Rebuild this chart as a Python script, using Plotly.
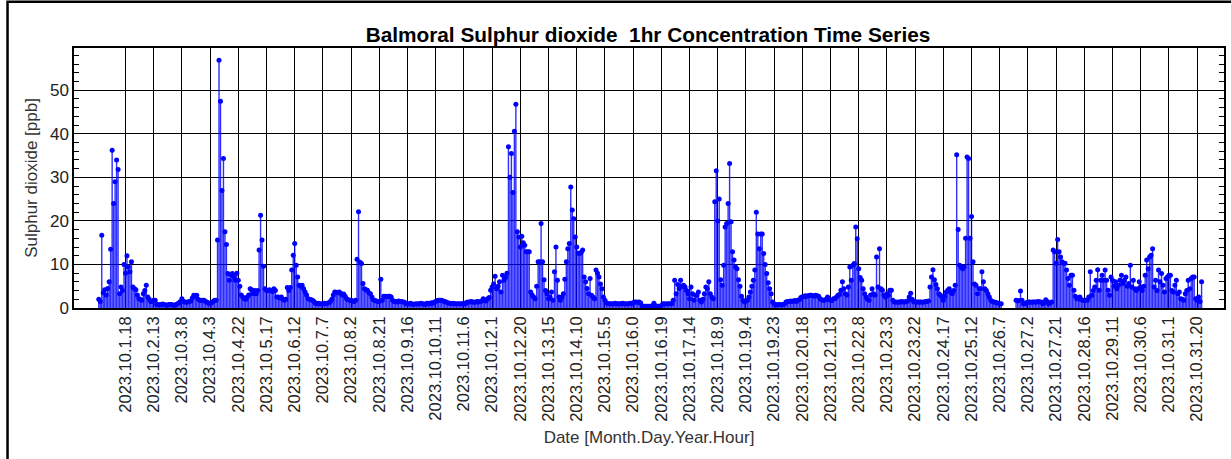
import plotly.graph_objects as go

# Hourly SO2 concentrations (ppb), October 2023, one list per day (hours 0..23)
d01 = [2.0, 1.5, 16.7, 3.5, 4.2, 3.0, 4.5, 6.0, 13.5, 36.2, 24.0, 29.0, 34.0, 31.8, 3.3, 4.8, 4.0, 10.0, 8.0, 12.0, 9.4, 8.3, 10.6, 4.8]
d02 = [4.4, 4.2, 3.0, 2.1, 2.0, 1.8, 3.3, 4.0, 5.2, 2.5, 2.0, 1.5, 1.5, 1.8, 1.8, 0.8, 0.8, 0.7, 0.8, 0.9, 0.8, 0.7, 0.6, 0.8]
d03 = [0.8, 0.8, 0.7, 0.6, 0.8, 1.0, 1.2, 1.5, 2.1, 1.5, 1.4, 1.3, 1.4, 1.5, 1.6, 2.3, 2.9, 2.7, 2.9, 2.0, 1.8, 1.7, 1.8, 1.8]
d04 = [1.5, 1.3, 1.1, 1.1, 1.2, 1.5, 1.8, 1.8, 15.6, 56.9, 47.5, 27.0, 34.3, 17.5, 14.6, 7.9, 6.4, 7.5, 7.9, 7.2, 6.4, 8.0, 6.4, 5.0]
d05 = [3.0, 2.5, 2.1, 2.0, 2.5, 3.0, 4.4, 4.2, 3.3, 4.0, 3.3, 4.0, 13.3, 21.3, 15.6, 9.6, 4.4, 4.0, 4.0, 4.2, 4.0, 3.8, 4.4, 4.0]
d06 = [2.5, 2.5, 2.3, 2.5, 2.0, 1.8, 2.0, 4.7, 4.0, 4.7, 8.7, 12.1, 14.8, 9.8, 7.1, 5.2, 5.0, 5.2, 4.4, 3.7, 3.0, 2.1, 2.0, 1.9]
d07 = [1.8, 1.5, 1.1, 1.0, 1.1, 1.0, 0.9, 1.0, 1.1, 1.0, 1.1, 1.2, 1.5, 2.0, 3.0, 3.7, 3.6, 3.5, 3.7, 3.4, 3.0, 3.2, 2.7, 2.1]
d08 = [1.9, 1.8, 1.8, 1.6, 1.5, 1.8, 11.2, 22.1, 10.5, 10.2, 5.6, 4.4, 4.2, 4.1, 3.5, 3.3, 2.5, 1.9, 1.7, 1.6, 1.5, 1.5, 6.6, 1.8]
d09 = [2.7, 2.7, 2.6, 2.7, 2.7, 2.5, 1.8, 1.5, 1.5, 1.4, 1.6, 1.5, 1.5, 1.4, 1.3, 1.0, 1.0, 0.9, 1.1, 1.0, 0.8, 0.9, 1.0, 0.9]
d10 = [1.0, 1.1, 1.0, 0.9, 0.8, 1.1, 1.1, 1.0, 1.2, 1.1, 1.3, 1.5, 1.7, 1.8, 1.8, 1.8, 1.6, 1.5, 1.4, 1.2, 1.1, 1.1, 1.0, 1.1]
d11 = [1.0, 0.9, 1.0, 1.0, 0.9, 1.0, 1.1, 1.0, 1.3, 1.4, 1.4, 1.5, 1.4, 1.3, 1.4, 1.5, 1.4, 1.5, 1.6, 2.1, 1.8, 1.6, 2.1, 2.4]
d12 = [4.1, 4.8, 5.5, 7.3, 4.4, 5.0, 6.0, 3.7, 7.5, 6.4, 7.0, 8.0, 37.0, 30.0, 35.5, 26.5, 40.6, 46.8, 17.5, 16.3, 14.0, 16.5, 15.0, 14.4]
d13 = [12.9, 12.9, 12.9, 3.7, 3.0, 2.5, 2.1, 5.0, 10.6, 10.6, 19.4, 10.6, 6.5, 4.0, 3.3, 2.1, 2.5, 3.7, 1.8, 8.3, 14.0, 6.4, 2.5, 1.8]
d14 = [2.5, 3.3, 6.6, 10.6, 13.6, 14.8, 27.8, 22.5, 20.5, 16.3, 14.0, 12.6, 12.5, 12.8, 13.3, 7.1, 6.0, 4.5, 3.3, 6.8, 2.9, 2.5, 2.1, 8.7]
d15 = [8.0, 7.1, 5.5, 4.4, 2.5, 1.8, 1.2, 1.0, 1.0, 1.0, 0.9, 1.0, 1.1, 1.0, 0.9, 1.0, 1.0, 1.1, 1.0, 0.9, 1.0, 1.0, 1.1, 1.0]
d16 = [1.2, 1.4, 1.4, 1.3, 1.4, 1.2, 0.5, 0.4, 0.4, 0.4, 0.4, 0.4, 0.4, 0.5, 1.1, 0.5, 0.4, 0.4, 0.4, 0.5, 1.0, 1.0, 0.9, 1.0]
d17 = [1.0, 1.0, 1.0, 1.8, 6.4, 3.3, 5.4, 4.5, 6.4, 5.0, 5.2, 4.8, 4.0, 3.3, 2.1, 4.8, 3.3, 1.8, 2.9, 2.9, 3.7, 1.8, 1.4, 2.0]
d18 = [3.3, 4.8, 4.4, 6.0, 3.3, 2.5, 2.1, 24.4, 31.5, 20.0, 25.0, 6.5, 5.2, 9.8, 18.6, 19.4, 24.0, 33.2, 19.8, 12.9, 11.0, 9.4, 9.0, 6.5]
d19 = [5.0, 2.7, 1.8, 1.4, 1.6, 1.8, 2.5, 3.7, 5.0, 6.4, 8.7, 22.0, 17.0, 13.6, 17.0, 17.0, 12.5, 10.0, 7.9, 5.8, 4.4, 3.3, 1.4, 1.0]
d20 = [0.8, 0.7, 0.8, 0.8, 0.7, 0.8, 0.9, 1.4, 1.5, 1.5, 1.6, 1.5, 1.6, 1.7, 1.5, 1.8, 1.9, 2.4, 2.6, 2.6, 2.8, 2.7, 2.8, 2.9]
d21 = [2.9, 2.8, 2.7, 2.9, 2.8, 2.7, 2.1, 1.9, 1.8, 1.8, 2.0, 2.5, 2.0, 1.8, 1.7, 2.1, 2.2, 2.5, 2.9, 3.1, 4.1, 6.0, 4.4, 3.3]
d22 = [3.0, 4.8, 9.4, 6.4, 9.8, 10.2, 18.6, 15.9, 9.0, 7.0, 6.4, 4.4, 3.3, 2.5, 2.0, 1.8, 3.0, 4.4, 3.3, 3.0, 11.7, 4.8, 13.6, 4.4]
d23 = [4.1, 2.9, 2.5, 3.3, 2.9, 4.1, 4.1, 1.8, 1.4, 1.4, 1.3, 1.4, 1.4, 1.5, 1.4, 1.4, 1.5, 1.6, 2.5, 3.4, 2.0, 1.5, 1.4, 1.4]
d24 = [1.4, 1.4, 1.4, 1.3, 1.4, 1.5, 1.5, 1.6, 4.8, 7.1, 8.8, 6.5, 5.4, 4.4, 3.3, 3.0, 2.5, 1.8, 2.7, 3.7, 4.1, 4.4, 3.7, 3.3]
d25 = [4.0, 5.2, 35.2, 18.0, 9.8, 9.5, 9.0, 9.4, 16.0, 34.7, 34.3, 16.0, 21.0, 10.6, 5.5, 5.2, 3.3, 4.4, 4.4, 8.3, 6.0, 4.4, 4.0, 3.3]
d26 = [2.5, 1.8, 1.5, 1.4, 1.3, 1.2, 1.1, 1.0, 1.0, None, None, None, None, None, None, None, None, None, 1.8, 1.6, 1.7, 3.9, 1.8, 1.0]
d27 = [1.0, 1.2, 1.4, 1.4, 1.3, 1.4, 1.4, 1.4, 1.4, 1.5, 1.4, 1.4, 1.0, 1.2, 1.9, 1.5, 1.0, 1.2, 1.4, 13.3, 12.9, 10.3, 15.7, 12.9]
d28 = [11.7, 10.6, 10.3, 10.3, 8.7, 6.8, 5.2, 7.5, 7.5, 4.1, 2.7, 2.1, 2.1, 2.5, 1.9, 1.8, 1.8, 1.8, 1.8, 2.5, 8.3, 2.9, 4.0, 4.8]
d29 = [6.4, 8.8, 4.1, 6.4, 7.5, 6.4, 8.7, 6.4, 4.1, 2.9, 7.1, 6.4, 5.0, 6.0, 4.4, 5.2, 6.4, 7.5, 5.6, 6.4, 7.1, 5.0, 5.6, 9.8]
d30 = [4.8, 6.4, 4.4, 4.0, 4.4, 6.0, 4.8, 4.0, 5.0, 7.5, 11.0, 9.0, 11.7, 12.1, 13.6, 4.8, 6.4, 4.0, 8.7, 6.0, 7.9, 5.2, 3.7, 6.8]
d31 = [7.1, 7.5, 7.5, 4.0, 3.7, 5.2, 6.4, 3.3, 3.7, 2.1, 2.0, 1.8, 3.3, 4.0, 6.4, 4.4, 6.8, 7.1, 7.1, 2.1, 1.8, 2.5, 1.5, 6.0]

tick_labels = [
    "2023.10.1.18", "2023.10.2.13", "2023.10.3.8", "2023.10.4.3", "2023.10.4.22",
    "2023.10.5.17", "2023.10.6.12", "2023.10.7.7", "2023.10.8.2", "2023.10.8.21",
    "2023.10.9.16", "2023.10.10.11", "2023.10.11.6", "2023.10.12.1", "2023.10.12.20",
    "2023.10.13.15", "2023.10.14.10", "2023.10.15.5", "2023.10.16.0", "2023.10.16.19",
    "2023.10.17.14", "2023.10.18.9", "2023.10.19.4", "2023.10.19.23", "2023.10.20.18",
    "2023.10.21.13", "2023.10.22.8", "2023.10.23.3", "2023.10.23.22", "2023.10.24.17",
    "2023.10.25.12", "2023.10.26.7", "2023.10.27.2", "2023.10.27.21", "2023.10.28.16",
    "2023.10.29.11", "2023.10.30.6", "2023.10.31.1", "2023.10.31.20",
]

days = [d01, d02, d03, d04, d05, d06, d07, d08, d09, d10, d11, d12, d13, d14, d15, d16,
        d17, d18, d19, d20, d21, d22, d23, d24, d25, d26, d27, d28, d29, d30, d31]
values = [v for day in days for v in day]
hours = list(range(len(values)))

def label_hour(lbl):
    _, _, d, h = lbl.split(".")
    return (int(d) - 1) * 24 + int(h)

tick_vals = [label_hour(t) for t in tick_labels]

FONT = "Liberation Sans, Arial, sans-serif"

fig = go.Figure()
fig.add_trace(go.Bar(
    x=hours, y=values, width=0.95,
    marker=dict(color="rgba(0,0,255,0.82)", line=dict(width=0)),
    hoverinfo="skip",
))
fig.add_trace(go.Scatter(
    x=hours, y=values, mode="markers",
    marker=dict(color="#0000ff", size=5),
))

fig.update_layout(
    width=1231, height=459,
    margin=dict(l=74, r=7, t=48, b=151, pad=0),
    paper_bgcolor="white", plot_bgcolor="white",
    showlegend=False,
    title=dict(text="<b>Balmoral Sulphur dioxide  1hr Concentration Time Series</b>",
               x=0.5264, xanchor="center", y=0.924, yanchor="middle",
               font=dict(family=FONT, size=20.8, color="black")),
    font=dict(family=FONT, color="#222"),
    shapes=[dict(type="rect", xref="paper", yref="paper",
                 x0=-0.0578, x1=1.02, y0=-0.60, y1=1.178,
                 line=dict(color="black", width=2.5), fillcolor="rgba(0,0,0,0)", layer="above")],
)

fig.update_xaxes(
    range=[-16.7, 758.1], automargin=False,
    tickmode="array", tickvals=tick_vals, ticktext=tick_labels, tickangle=-90,
    tickfont=dict(family=FONT, size=16.5, color="#222"),
    showgrid=True, gridcolor="black", gridwidth=1.3,
    showline=True, linecolor="black", linewidth=1.5, mirror=True,
    ticks="", zeroline=False,
    title=dict(text="Date [Month.Day.Year.Hour]", font=dict(family=FONT, size=17, color="#333"), standoff=10),
)
fig.update_yaxes(
    range=[0, 59.7], dtick=10, tick0=0, automargin=False,
    tickfont=dict(family=FONT, size=17, color="#222"),
    showgrid=True, gridcolor="black", gridwidth=1.3,
    showline=True, linecolor="black", linewidth=1.5, mirror="allticks",
    ticks="inside", ticklen=0, zeroline=False,
    minor=dict(dtick=2, ticks="inside", ticklen=5, tickcolor="black", tickwidth=1, showgrid=False),
    title=dict(text="Sulphur dioxide [ppb]", font=dict(family=FONT, size=17, color="#333"), standoff=8),
)

fig.write_html("out.html", config={"displayModeBar": False},
               post_script="document.body.style.margin='0';document.body.style.overflow='hidden';")
